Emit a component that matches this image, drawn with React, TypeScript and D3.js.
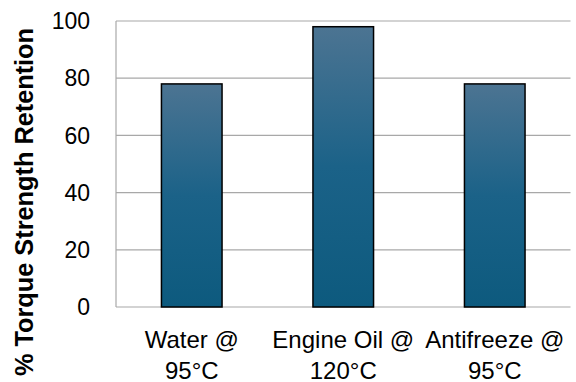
import React from "react";
import * as d3 from "d3";

const categories: string[][] = [
  ["Water @", "95°C"],
  ["Engine Oil @", "120°C"],
  ["Antifreeze @", "95°C"],
];
const retention: number[] = [78, 98, 78];
const yTicks: number[] = [0, 20, 40, 60, 80, 100];
const yTitle = "% Torque Strength Retention";

const W = 576;
const H = 382;
const margin = { left: 116, right: 5.5, top: 21, bottom: 75 };

export default function App() {
  const x = d3
    .scaleBand<number>()
    .domain(d3.range(categories.length))
    .range([margin.left, W - margin.right])
    .paddingInner(0.6)
    .paddingOuter(0.3);
  const y = d3.scaleLinear().domain([0, 100]).range([H - margin.bottom, margin.top]);
  const font = "'Liberation Sans', Arial, sans-serif";

  return (
    <svg
      width={W}
      height={H}
      style={{ position: "absolute", left: 0, top: 0, background: "#fff" }}
    >
      <defs>
        <linearGradient id="barFill" x1="0" y1="0" x2="0" y2="1">
          <stop offset="0" stopColor="#4c7492" />
          <stop offset="0.5" stopColor="#1b6288" />
          <stop offset="1" stopColor="#0d5a7e" />
        </linearGradient>
      </defs>
      {yTicks.map((t) => (
        <g key={t}>
          <line
            x1={margin.left}
            x2={W - margin.right}
            y1={y(t)}
            y2={y(t)}
            stroke="#a8a8a8"
            strokeWidth={1.2}
          />
          <text
            x={90}
            y={y(t)}
            dy="0.36em"
            textAnchor="end"
            fontFamily={font}
            fontSize={23}
            fill="#000"
          >
            {t}
          </text>
        </g>
      ))}
      <line
        x1={margin.left}
        x2={margin.left}
        y1={y(100)}
        y2={y(0)}
        stroke="#a8a8a8"
        strokeWidth={1.2}
      />
      {retention.map((v, i) => (
        <rect
          key={i}
          x={x(i)!}
          y={y(v)}
          width={x.bandwidth()}
          height={y(0) - y(v)}
          fill="url(#barFill)"
          stroke="#000"
          strokeWidth={1.5}
        />
      ))}
      {categories.map((lines, i) => (
        <text
          key={i}
          x={x(i)! + x.bandwidth() / 2}
          textAnchor="middle"
          fontFamily={font}
          fontSize={24}
          fill="#000"
        >
          {lines.map((l, j) => (
            <tspan key={j} x={x(i)! + x.bandwidth() / 2} y={348 + j * 31}>
              {l}
            </tspan>
          ))}
        </text>
      ))}
      <text
        transform={`translate(33,${202}) rotate(-90)`}
        textAnchor="middle"
        fontFamily={font}
        fontWeight="bold"
        fontSize={25.3}
        fill="#000"
      >
        {yTitle}
      </text>
    </svg>
  );
}
